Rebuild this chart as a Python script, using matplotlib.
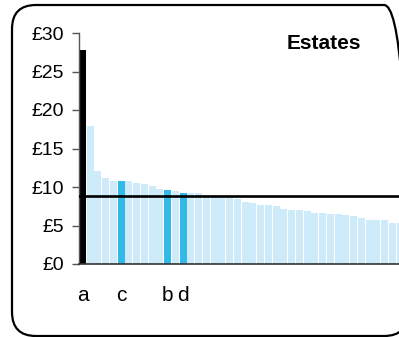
import matplotlib
matplotlib.use("Agg")
import matplotlib.pyplot as plt
from matplotlib.patches import FancyBboxPatch
from matplotlib.transforms import IdentityTransform

plt.rcParams['font.family'] = ['Liberation Sans', 'DejaVu Sans']

title = "Estates"
values = [27.8, 17.9, 12.1, 11.2, 10.8, 10.8, 10.8, 10.5, 10.4, 10.1,
          9.7, 9.6, 9.5, 9.2, 9.2, 9.2, 8.9, 8.9, 8.8, 8.7,
          8.45, 8.05, 7.9, 7.65, 7.65, 7.5, 7.15, 7.0, 7.0, 6.9,
          6.6, 6.6, 6.5, 6.5, 6.35, 6.2, 5.95, 5.7, 5.7, 5.7,
          5.3, 5.3]
highlight_idx = [0, 5, 11, 13]
highlight_labels = ["a", "c", "b", "d"]
average = 8.8
yticks = [0, 5, 10, 15, 20, 25, 30]
ytick_labels = ["£0", "£5", "£10", "£15", "£20", "£25", "£30"]

W, H = 399, 337
fig = plt.figure(figsize=(W / 100, H / 100), dpi=100)

# rounded frame (right side runs off the canvas)
frame = FancyBboxPatch((12, H - 336), 396, 331,
                       boxstyle="round,pad=0,rounding_size=24",
                       transform=IdentityTransform(), fill=False,
                       edgecolor="black", linewidth=1.6)
fig.patches.append(frame)

ax = fig.add_axes([79 / W, (H - 264) / H, 320 / W, 231 / H])

colors = []
for i in range(len(values)):
    if i == 0:
        colors.append("black")
    elif i in highlight_idx:
        colors.append("#33b9e8")
    else:
        colors.append("#cdebf8")
ax.bar(range(len(values)), values, width=0.9, color=colors, zorder=2)
ax.axhline(average, color="black", linewidth=1.9, zorder=3)

ax.set_xlim(-0.45, 40.85)
ax.set_ylim(0, 30)
ax.set_yticks(yticks, ytick_labels)
ax.set_xticks(highlight_idx, highlight_labels)
ax.tick_params(axis="y", length=5, width=1, color="#555555", pad=6.0,
               labelsize=14)
ax.tick_params(axis="x", length=0, pad=15.5, labelsize=15)
for s in ["top", "right"]:
    ax.spines[s].set_visible(False)
ax.spines["left"].set_color("#555555")
ax.spines["bottom"].set_color("#333333")
ax.spines["left"].set_linewidth(1)
ax.spines["bottom"].set_linewidth(1.2)
ax.patch.set_alpha(0)

fig.text(323.7 / W, (H - 49) / H, title, ha="center", va="baseline",
         fontsize=15, fontweight="bold")

fig.savefig("out.png", dpi=100)
